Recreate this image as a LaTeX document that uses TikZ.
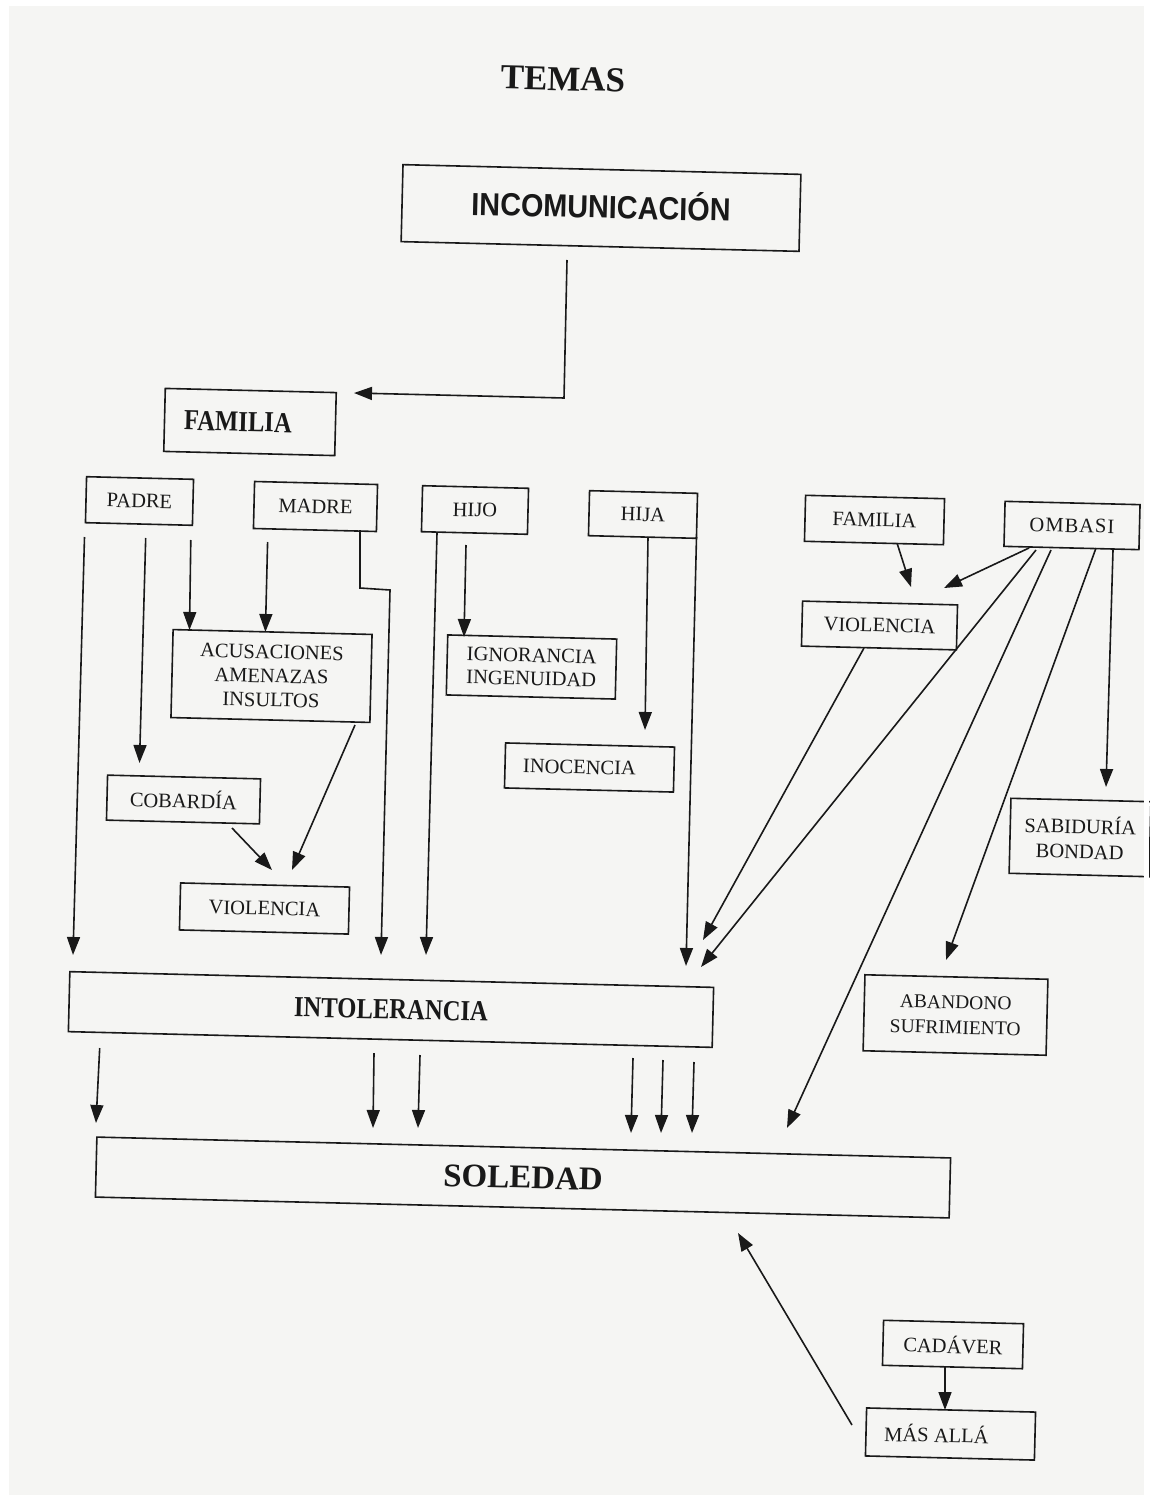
\documentclass[tikz,border=0pt]{standalone}
\usepackage{fontspec}
\setmainfont{Liberation Serif}
\newfontfamily\headsans[FakeStretch=0.9]{Liberation Sans}
\newfontfamily\narrowserif[FakeStretch=0.85]{Liberation Serif}
\usetikzlibrary{arrows.meta}
\definecolor{pagecol}{RGB}{245,245,243}
\definecolor{inkcol}{RGB}{25,25,25}

\begin{document}
\begin{tikzpicture}[x=1pt,y=-1pt,
  ink/.style={line width=1.6pt, draw=inkcol},
  box/.style={ink, rectangle, inner sep=0pt, rotate=-1.4, align=center,
    text=inkcol, font=\fontsize{20.5}{24}\selectfont},
  title/.style={inner sep=0pt, rotate=-1.4, text=inkcol},
  arr/.style={ink, -{Triangle[length=18pt,width=13pt]}}
]
\useasboundingbox (0,0) rectangle (1149,1495);
% page
\fill[pagecol] (0,0) rectangle (1149,1495);
\fill[white] (0,0) rectangle (9,1495);
\fill[white] (0,0) rectangle (1149,6);

% heading
\node[title, font=\fontsize{35}{40}\selectfont\bfseries] (temas) at (563,79) {TEMAS};

% boxes
\node[box, minimum width=398pt, minimum height=77pt,
  font=\headsans\bfseries\fontsize{32}{36}\selectfont] (incom) at (601,208) {\raisebox{8pt}{INCOMUNICACIÓN}};
\node[box, minimum width=171pt, minimum height=63pt,
  font=\narrowserif\bfseries\fontsize{29}{34}\selectfont] (famt) at (250,422) {FAMILIA\hspace*{24pt}};

\node[box, minimum width=107pt, minimum height=46pt] (padre) at (139.5,501) {PADRE};
\node[box, minimum width=123pt, minimum height=47pt] (madre) at (315.5,506.5) {MADRE};
\node[box, minimum width=106pt, minimum height=46pt] (hijo) at (475,510) {HIJO};
\node[box, minimum width=108pt, minimum height=45pt] (hija) at (643,514.5) {HIJA};
\node[box, minimum width=139pt, minimum height=46pt] (famr) at (874.5,520) {FAMILIA};
\node[box, minimum width=135pt, minimum height=45pt] (ombasi) at (1072,525.5) {O\kern1pt M\kern1pt B\kern1pt A\kern1pt S\kern1pt I};

\node[box, minimum width=199pt, minimum height=88pt] (acus) at (271.5,676) {ACUSACIONES\\AMENAZAS\\INSULTOS};
\node[box, minimum width=169pt, minimum height=60pt, font=\fontsize{20.5}{23}\selectfont] (ignor) at (531.5,667) {IGNORANCIA\\INGENUIDAD};
\node[box, minimum width=155pt, minimum height=45pt] (violr) at (879.5,625.5) {VIOLENCIA};
\node[box, minimum width=169pt, minimum height=45pt] (inoc) at (589.5,767.5) {INOCENCIA\hspace*{20pt}};
\node[box, minimum width=153pt, minimum height=45pt] (cobar) at (183.5,799.5) {COBARDÍA};
\node[box, minimum width=169pt, minimum height=47pt] (violl) at (264.5,908.5) {VIOLENCIA};
\node[box, minimum width=140pt, minimum height=75pt, font=\fontsize{20.5}{25}\selectfont] (sabid) at (1080,837.5) {SABIDURÍA\\BONDAD};
\node[box, minimum width=183pt, minimum height=76pt, font=\fontsize{19.5}{25}\selectfont] (aband) at (955.5,1015) {ABANDONO\\SUFRIMIENTO};

\node[box, minimum width=644pt, minimum height=60pt,
  font=\narrowserif\bfseries\fontsize{29}{34}\selectfont] (intol) at (391,1009.5) {INTOLERANCIA};
\node[box, minimum width=854pt, minimum height=60pt,
  font=\bfseries\fontsize{33}{38}\selectfont] (soled) at (523,1177.5) {SOLEDAD};

\node[box, minimum width=140pt, minimum height=45pt] (cadav) at (953,1344.5) {CADÁVER};
\node[box, minimum width=169pt, minimum height=48pt] (masal) at (950.5,1434) {MÁS ALLÁ\hspace*{28pt}};

% right page edge cuts the last box
\fill[white] (1144,0) rectangle (1149,1495);

% connector end points
\coordinate (a1s) at (567,260);   \coordinate (a1m) at (564,398);   \coordinate (a1t) at (354,393);
\coordinate (p1s) at (84.5,537);  \coordinate (p1t) at (73,955);
\coordinate (p2s) at (145.7,538); \coordinate (p2t) at (139.5,763);
\coordinate (p3s) at (190.8,540); \coordinate (p3t) at (189.5,630);
\coordinate (m1s) at (267.6,542); \coordinate (m1t) at (265.4,632);
\coordinate (m2s) at (360,530);   \coordinate (m2a) at (360,588);
\coordinate (m2b) at (390,590);   \coordinate (m2t) at (381,955);
\coordinate (h1s) at (437,533);   \coordinate (h1t) at (426,955);
\coordinate (h2s) at (466,545);   \coordinate (h2t) at (464,637);
\coordinate (j1s) at (648,537);   \coordinate (j1t) at (645,730);
\coordinate (j2s) at (696.5,537); \coordinate (j2t) at (686,966);
\coordinate (f1s) at (897,543);   \coordinate (f1t) at (911,587);
\coordinate (o1s) at (1029,548);  \coordinate (o1t) at (944,588);
\coordinate (o2s) at (1036,550);  \coordinate (o2t) at (701,967);
\coordinate (o3s) at (1051,550);  \coordinate (o3t) at (787,1128);
\coordinate (o4s) at (1096,548);  \coordinate (o4t) at (946,960);
\coordinate (o5s) at (1113,550);  \coordinate (o5t) at (1106,787);
\coordinate (v1s) at (864,648);   \coordinate (v1t) at (703,940);
\coordinate (c1s) at (355,725);   \coordinate (c1t) at (292,870);
\coordinate (c2s) at (232,828);   \coordinate (c2t) at (272,870);
\coordinate (s1s) at (99.7,1048); \coordinate (s1t) at (96,1123);
\coordinate (s2s) at (374,1053);  \coordinate (s2t) at (373,1128);
\coordinate (s3s) at (420,1055);  \coordinate (s3t) at (418,1128);
\coordinate (s4s) at (633,1058);  \coordinate (s4t) at (631,1133);
\coordinate (s5s) at (663,1060);  \coordinate (s5t) at (661,1133);
\coordinate (s6s) at (694,1062);  \coordinate (s6t) at (692,1133);
\coordinate (k1s) at (945,1367);  \coordinate (k1t) at (945,1410);
\coordinate (k2s) at (852,1425);  \coordinate (k2t) at (738,1233);

% connectors
\draw[arr] (a1s) -- (a1m) -- (a1t);
\draw[arr] (p1s) -- (p1t);
\draw[arr] (p2s) -- (p2t);
\draw[arr] (p3s) -- (p3t);
\draw[arr] (m1s) -- (m1t);
\draw[arr] (m2s) -- (m2a) -- (m2b) -- (m2t);
\draw[arr] (h1s) -- (h1t);
\draw[arr] (h2s) -- (h2t);
\draw[arr] (j1s) -- (j1t);
\draw[arr] (j2s) -- (j2t);
\draw[arr] (f1s) -- (f1t);
\draw[arr] (o1s) -- (o1t);
\draw[arr] (o2s) -- (o2t);
\draw[arr] (o3s) -- (o3t);
\draw[arr] (o4s) -- (o4t);
\draw[arr] (o5s) -- (o5t);
\draw[arr] (v1s) -- (v1t);
\draw[arr] (c1s) -- (c1t);
\draw[arr] (c2s) -- (c2t);
\draw[arr] (s1s) -- (s1t);
\draw[arr] (s2s) -- (s2t);
\draw[arr] (s3s) -- (s3t);
\draw[arr] (s4s) -- (s4t);
\draw[arr] (s5s) -- (s5t);
\draw[arr] (s6s) -- (s6t);
\draw[arr] (k1s) -- (k1t);
\draw[arr] (k2s) -- (k2t);
\end{tikzpicture}
\end{document}
